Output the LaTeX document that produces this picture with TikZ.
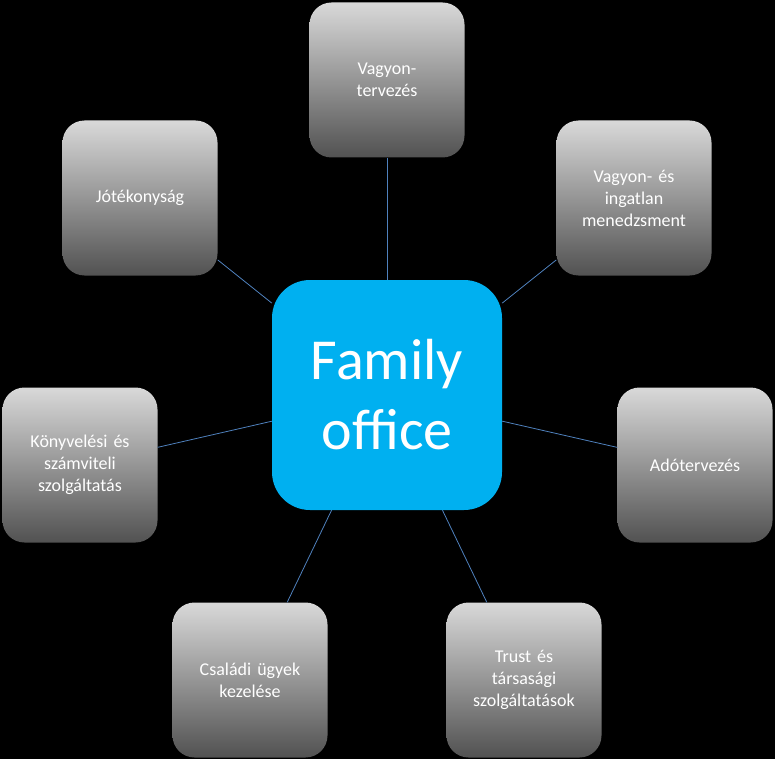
\documentclass[tikz,border=0pt]{standalone}
\usepackage{fontspec}
\setmainfont{Carlito}
\definecolor{cyanbox}{RGB}{0,176,240}
\definecolor{linkc}{RGB}{79,129,189}
\begin{document}
\begin{tikzpicture}[x=1pt,y=-1pt,
  sat/.style={rectangle,rounded corners=22pt,minimum width=155pt,minimum height=155pt,
    top color=black!15,bottom color=black!68,text=white,align=center,font=\fontsize{18}{22}\selectfont,text width=145pt},
  hub/.style={rectangle,rounded corners=38pt,minimum width=230pt,minimum height=230pt,fill=cyanbox,text=white,align=center,font=\fontsize{58}{70}\selectfont},
  link/.style={draw=linkc,line width=0.8pt}]
\fill[black] (0,0) rectangle (775,759);
\useasboundingbox (0,0) rectangle (775,759);
\node[hub] (c) at (387,395) {Family\\office};
\node[sat] (a) at (387,80) {Vagyon-\\tervezés};
\node[sat] (b) at (140,198) {Jótékonyság};
\node[sat] (d) at (634,198) {Vagyon- és\\ingatlan\\menedzsment};
\node[sat] (e) at (80,465) {Könyvelési és\\számviteli\\szolgáltatás};
\node[sat] (f) at (695,465) {Adótervezés};
\node[sat] (g) at (250,680) {Családi ügyek\\kezelése};
\node[sat] (h) at (524,680) {Trust és\\társasági\\szolgáltatások};
\foreach \n in {a,b,d,e,f,g,h} \draw[link] (c) -- (\n);
\end{tikzpicture}
\end{document}
